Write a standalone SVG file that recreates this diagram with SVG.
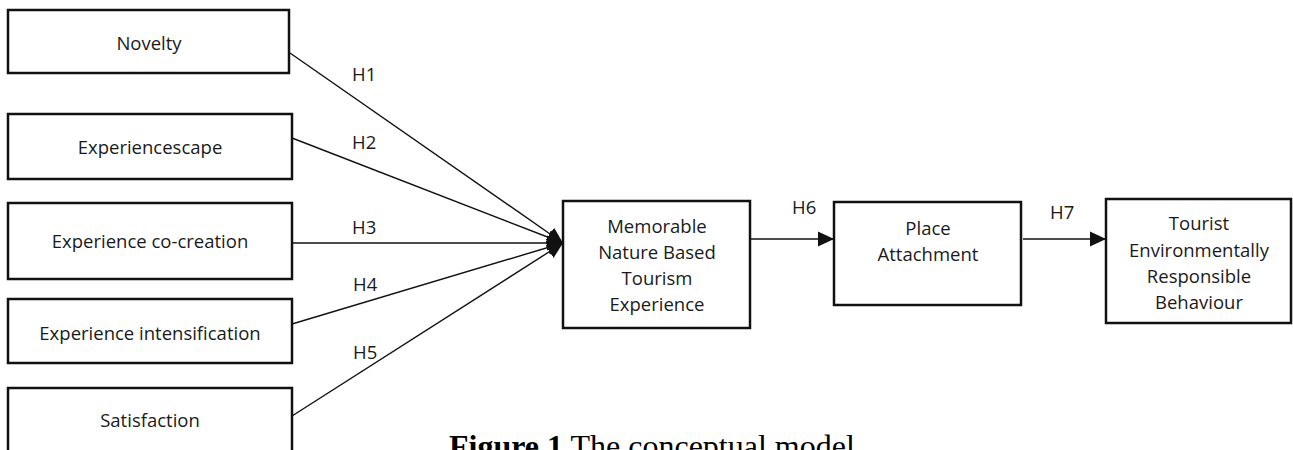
<svg xmlns="http://www.w3.org/2000/svg" width="1293" height="450" viewBox="0 0 1293 450">
<style>
  .box { fill: #fff; stroke: #111; stroke-width: 2.5; }
  .lbl { font-family: "Open Sans", "Liberation Sans", sans-serif; font-size: 18.5px; fill: #1a1a1a; text-anchor: middle; }
  .h { font-family: "Open Sans", "Liberation Sans", sans-serif; font-size: 18.5px; fill: #1a1a1a; }
  .edge { stroke: #111; stroke-width: 1.4; fill: none; marker-end: url(#arr); }
  .cap { font-family: "Liberation Serif", "Times New Roman", serif; font-size: 32px; fill: #000; }
</style>
<defs>
  <marker id="arr" markerUnits="userSpaceOnUse" markerWidth="18" markerHeight="18" viewBox="0 0 18 18" refX="16" refY="9" orient="auto">
    <path d="M0,1.5 L16,9 L0,16.5 Z" fill="#111"/>
  </marker>
</defs>
<rect width="1293" height="450" fill="#fff"/>

<g id="connectors">
  <line class="edge" x1="290" y1="53" x2="563" y2="243"/>
  <line class="edge" x1="292" y1="138" x2="563" y2="243"/>
  <line class="edge" x1="292" y1="243" x2="563" y2="243"/>
  <line class="edge" x1="292" y1="324" x2="563" y2="243"/>
  <line class="edge" x1="292" y1="416" x2="563" y2="243"/>
  <line class="edge" x1="750" y1="239" x2="834" y2="239"/>
  <line class="edge" x1="1023" y1="239" x2="1106" y2="239"/>
  <text class="h" x="352" y="81">H1</text>
  <text class="h" x="352" y="149">H2</text>
  <text class="h" x="352" y="234">H3</text>
  <text class="h" x="353" y="291">H4</text>
  <text class="h" x="353" y="359">H5</text>
  <text class="h" x="792" y="214">H6</text>
  <text class="h" x="1050" y="219">H7</text>
</g>

<g id="novelty">
  <rect class="box" x="8" y="10" width="281" height="63"/>
  <text class="lbl" x="149" y="50">Novelty</text>
</g>
<g id="experiencescape">
  <rect class="box" x="8" y="114" width="284" height="65"/>
  <text class="lbl" x="150" y="154">Experiencescape</text>
</g>
<g id="co-creation">
  <rect class="box" x="8" y="203" width="284" height="76"/>
  <text class="lbl" x="150" y="248">Experience co-creation</text>
</g>
<g id="intensification">
  <rect class="box" x="8" y="299" width="284" height="64"/>
  <text class="lbl" x="150" y="340">Experience intensification</text>
</g>
<g id="satisfaction">
  <rect class="box" x="8" y="388" width="284" height="80"/>
  <text class="lbl" x="150" y="427">Satisfaction</text>
</g>
<g id="mnbte">
  <rect class="box" x="563" y="201" width="187" height="127"/>
  <text class="lbl" x="657" y="233">Memorable</text>
  <text class="lbl" x="657" y="259">Nature Based</text>
  <text class="lbl" x="657" y="285">Tourism</text>
  <text class="lbl" x="657" y="311">Experience</text>
</g>
<g id="place-attachment">
  <rect class="box" x="834" y="202" width="187" height="103"/>
  <text class="lbl" x="928" y="235">Place</text>
  <text class="lbl" x="928" y="261">Attachment</text>
</g>
<g id="terb">
  <rect class="box" x="1106" y="199" width="185" height="124"/>
  <text class="lbl" x="1199" y="230">Tourist</text>
  <text class="lbl" x="1199" y="257">Environmentally</text>
  <text class="lbl" x="1199" y="283">Responsible</text>
  <text class="lbl" x="1199" y="309">Behaviour</text>
</g>
<g id="caption">
  <text class="cap" x="449" y="457"><tspan font-weight="bold">Figure 1</tspan> The conceptual model</text>
</g>
</svg>
